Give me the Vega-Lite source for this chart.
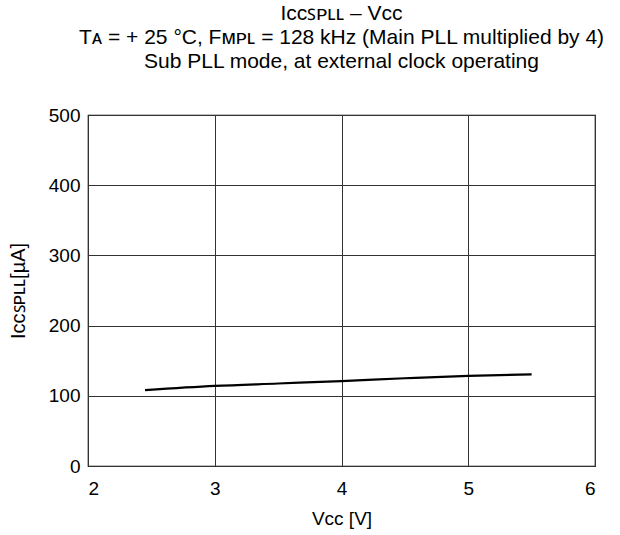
{
  "$schema": "https://vega.github.io/schema/vega-lite/v6.json",
  "autosize": {"type": "none"},
  "padding": {"left": 88, "top": 115, "right": 25, "bottom": 69},
  "width": 507,
  "height": 351,
  "background": "white",
  "title": {
    "text": ["Iᴄᴄꜱᴘʟʟ – Vᴄᴄ", "Tᴀ =  + 25 °C, Fᴍᴘʟ = 128 kHz (Main PLL multiplied by 4)", "Sub PLL mode, at external clock operating"],
    "font": "Liberation Sans",
    "fontSize": 21,
    "fontWeight": "normal",
    "lineHeight": 24,
    "color": "#000",
    "anchor": "middle",
    "offset": 34
  },
  "data": {
    "values": [
      {"vcc": 2.45, "icc": 108},
      {"vcc": 3.0, "icc": 114},
      {"vcc": 3.5, "icc": 117.5},
      {"vcc": 4.0, "icc": 121},
      {"vcc": 4.5, "icc": 125},
      {"vcc": 5.0, "icc": 128.5},
      {"vcc": 5.5, "icc": 130.5}
    ]
  },
  "mark": {"type": "line", "color": "#000", "strokeWidth": 2.2, "interpolate": "monotone"},
  "encoding": {
    "x": {
      "field": "vcc", "type": "quantitative",
      "scale": {"domain": [2, 6], "nice": false, "zero": false},
      "axis": {"values": [2, 3, 4, 5, 6], "title": "Vᴄᴄ [V]", "titlePadding": 11, "labelPadding": 13}
    },
    "y": {
      "field": "icc", "type": "quantitative",
      "scale": {"domain": [0, 500], "nice": false},
      "axis": {"values": [0, 100, 200, 300, 400, 500], "title": "Iᴄᴄꜱᴘʟʟ[µA]", "titlePadding": 20, "labelPadding": 8, "titleFontSize": 20}
    }
  },
  "config": {
    "view": {"stroke": "#000", "strokeWidth": 1.2},
    "axis": {
      "grid": true,
      "gridColor": "#333",
      "gridOpacity": 1,
      "gridWidth": 1,
      "ticks": false,
      "domain": false,
      "labelFont": "Liberation Sans",
      "labelFontSize": 19,
      "labelColor": "#000",
      "titleFont": "Liberation Sans",
      "titleFontSize": 19,
      "titleFontWeight": "normal",
      "titleColor": "#000"
    }
  }
}
